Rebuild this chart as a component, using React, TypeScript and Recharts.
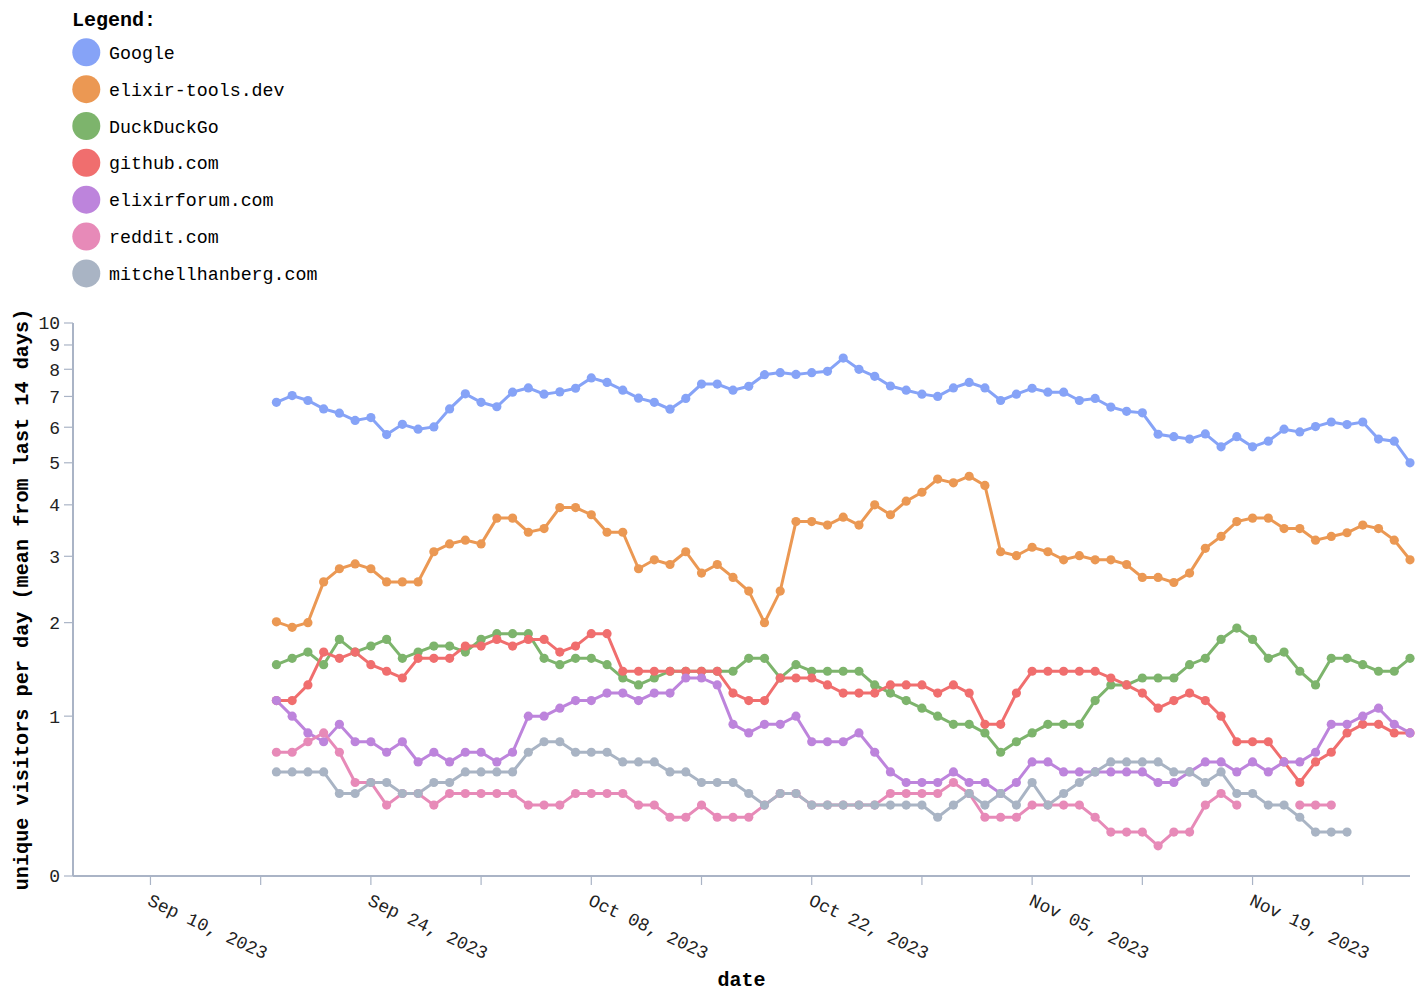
import React from 'react';
import { LineChart, Line, XAxis, YAxis } from 'recharts';

const FONT = '"Liberation Mono", "DejaVu Sans Mono", monospace';

const seriesNames = [
  'Google',
  'elixir-tools.dev',
  'DuckDuckGo',
  'github.com',
  'elixirforum.com',
  'reddit.com',
  'mitchellhanberg.com',
];
const seriesColors = ['#86a3f7', '#eb9853', '#7db46c', '#f06e6e', '#bd84dc', '#e78ab8', '#a9b4c4'];

// first data point: Sep 18, 2023 (day 8 counted from Sep 10, 2023), one point per day
const firstDay = 8;

const google = [
  6.8, 7.03, 6.86, 6.58, 6.44, 6.21, 6.3, 5.78, 6.09, 5.94, 6.01, 6.58, 7.09, 6.8, 6.65, 7.15, 7.3, 7.08, 7.16,
  7.29, 7.67, 7.5, 7.22, 6.94, 6.8, 6.57, 6.93, 7.44, 7.44, 7.22, 7.36, 7.79, 7.87, 7.8, 7.87, 7.92, 8.45,
  8.0, 7.73, 7.37, 7.22, 7.08, 7.0, 7.3, 7.5, 7.3, 6.86, 7.08, 7.29, 7.15, 7.15, 6.86, 6.93, 6.64, 6.5,
  6.45, 5.79, 5.72, 5.65, 5.8, 5.43, 5.72, 5.43, 5.59, 5.94, 5.86, 6.02, 6.16, 6.08, 6.16, 5.65, 5.59, 5.0,
];
const elixirTools = [
  2.01, 1.94, 2.0, 2.58, 2.79, 2.87, 2.79, 2.58, 2.58, 2.58, 3.08, 3.22, 3.29, 3.22, 3.72, 3.72, 3.44, 3.51, 3.94,
  3.94, 3.79, 3.44, 3.44, 2.79, 2.94, 2.86, 3.08, 2.72, 2.86, 2.65, 2.44, 2.0, 2.44, 3.65, 3.65, 3.58, 3.74,
  3.58, 4.0, 3.79, 4.08, 4.28, 4.59, 4.5, 4.66, 4.44, 3.08, 3.01, 3.16, 3.08, 2.94, 3.01, 2.94, 2.94, 2.86,
  2.65, 2.65, 2.57, 2.72, 3.14, 3.36, 3.65, 3.72, 3.72, 3.51, 3.51, 3.29, 3.36, 3.43, 3.58, 3.51, 3.29, 2.94,
];
const duckDuckGo = [
  1.5, 1.57, 1.64, 1.5, 1.79, 1.64, 1.71, 1.79, 1.57, 1.64, 1.71, 1.71, 1.64, 1.79, 1.86,
  1.86, 1.86, 1.57, 1.5, 1.57, 1.57, 1.5, 1.36, 1.29, 1.36, 1.43, 1.43, 1.43, 1.43,
  1.43, 1.57, 1.57, 1.36, 1.5, 1.43, 1.43, 1.43, 1.43, 1.29, 1.21, 1.14, 1.07, 1.0,
  0.93, 0.93, 0.86, 0.71, 0.79, 0.86, 0.93, 0.93, 0.93, 1.14, 1.29, 1.29, 1.36, 1.36, 1.36,
  1.5, 1.57, 1.79, 1.93, 1.79, 1.57, 1.64, 1.43, 1.29, 1.57, 1.57, 1.5, 1.43, 1.43, 1.57,
];
const github = [
  1.14, 1.14, 1.29, 1.64, 1.57, 1.64, 1.5, 1.43, 1.36, 1.57, 1.57, 1.57, 1.71, 1.71, 1.79,
  1.71, 1.79, 1.79, 1.64, 1.71, 1.86, 1.86, 1.43, 1.43, 1.43, 1.43, 1.43, 1.43, 1.43,
  1.21, 1.14, 1.14, 1.36, 1.36, 1.36, 1.29, 1.21, 1.21, 1.21, 1.29, 1.29, 1.29, 1.21,
  1.29, 1.21, 0.93, 0.93, 1.21, 1.43, 1.43, 1.43, 1.43, 1.43, 1.36, 1.29, 1.21, 1.07, 1.14,
  1.21, 1.14, 1.0, 0.79, 0.79, 0.79, 0.64, 0.5, 0.64, 0.71, 0.86, 0.93, 0.93, 0.86, 0.86,
];
const elixirForum = [
  1.14, 1.0, 0.86, 0.79, 0.93, 0.79, 0.79, 0.71, 0.79, 0.64, 0.71, 0.64, 0.71, 0.71, 0.64,
  0.71, 1.0, 1.0, 1.07, 1.14, 1.14, 1.21, 1.21, 1.14, 1.21, 1.21, 1.36, 1.36, 1.29,
  0.93, 0.86, 0.93, 0.93, 1.0, 0.79, 0.79, 0.79, 0.86, 0.71, 0.57, 0.5, 0.5, 0.5,
  0.57, 0.5, 0.5, 0.43, 0.5, 0.64, 0.64, 0.57, 0.57, 0.57, 0.57, 0.57, 0.57, 0.5, 0.5,
  0.57, 0.64, 0.64, 0.57, 0.64, 0.57, 0.64, 0.64, 0.71, 0.93, 0.93, 1.0, 1.07, 0.93, 0.86,
];
const reddit = [
  0.71, 0.71, 0.79, 0.86, 0.71, 0.5, 0.5, 0.36, 0.43, 0.43, 0.36, 0.43, 0.43, 0.43, 0.43,
  0.43, 0.36, 0.36, 0.36, 0.43, 0.43, 0.43, 0.43, 0.36, 0.36, 0.29, 0.29, 0.36, 0.29,
  0.29, 0.29, 0.36, 0.43, 0.43, 0.36, 0.36, 0.36, 0.36, 0.36, 0.43, 0.43, 0.43, 0.43,
  0.5, 0.43, 0.29, 0.29, 0.29, 0.36, 0.36, 0.36, 0.36, 0.29, 0.21, 0.21, 0.21, 0.14, 0.21,
  0.21, 0.36, 0.43, 0.36, null, null, null, 0.36, 0.36, 0.36, null, null, null, null, null,
];
const mitchellHanberg = [
  0.57, 0.57, 0.57, 0.57, 0.43, 0.43, 0.5, 0.5, 0.43, 0.43, 0.5, 0.5, 0.57, 0.57, 0.57,
  0.57, 0.71, 0.79, 0.79, 0.71, 0.71, 0.71, 0.64, 0.64, 0.64, 0.57, 0.57, 0.5, 0.5,
  0.5, 0.43, 0.36, 0.43, 0.43, 0.36, 0.36, 0.36, 0.36, 0.36, 0.36, 0.36, 0.36, 0.29,
  0.36, 0.43, 0.36, 0.43, 0.36, 0.5, 0.36, 0.43, 0.5, 0.57, 0.64, 0.64, 0.64, 0.64, 0.57,
  0.57, 0.5, 0.57, 0.43, 0.43, 0.36, 0.36, 0.29, 0.21, 0.21, 0.21, null, null, null, null,
];

const seriesValues = [google, elixirTools, duckDuckGo, github, elixirForum, reddit, mitchellHanberg];

const yTickValues = [0, 1, 2, 3, 4, 5, 6, 7, 8, 9, 10];
const xTickDays = [0, 7, 14, 21, 28, 35, 42, 49, 56, 63, 70, 77];
const monthNames = ['Jan', 'Feb', 'Mar', 'Apr', 'May', 'Jun', 'Jul', 'Aug', 'Sep', 'Oct', 'Nov', 'Dec'];

// symmetric-log transform (constant 1)
const symlog = (v: number | null) => (v == null ? null : Math.log10(1 + v));
const symexp = (t: number) => Math.pow(10, t) - 1;

const rows = google.map((_, i) => {
  const row: Record<string, number | null> = { day: firstDay + i };
  seriesValues.forEach((arr, s) => {
    row['s' + s] = symlog(arr[i] ?? null);
  });
  return row;
});

const fmtDay = (d: number) => {
  const dt = new Date(Date.UTC(2023, 8, 10 + d));
  const dd = String(dt.getUTCDate()).padStart(2, '0');
  return `${monthNames[dt.getUTCMonth()]} ${dd}, ${dt.getUTCFullYear()}`;
};

const AXIS_COLOR = '#aab4c6';

const XTick = (props: any) => {
  const { x, payload } = props;
  const d = payload.value as number;
  if (d % 14 !== 0) return null;
  const y0 = 896;
  return (
    <text
      x={x}
      y={y0}
      dy={9.5}
      textAnchor="start"
      transform={`rotate(25, ${x}, ${y0})`}
      fontFamily={FONT}
      fontSize={18}
      fill="#222"
    >
      {fmtDay(d)}
    </text>
  );
};

export default function App() {
  return (
    <div style={{ position: 'absolute', left: 0, top: 0, width: 1421, height: 992, background: '#fff' }}>
      <LineChart
        width={1421}
        height={992}
        data={rows}
        margin={{ top: 323, right: 11, bottom: 86, left: 13 }}
      >
        <XAxis
          dataKey="day"
          type="number"
          domain={[-4.92, 80]}
          ticks={xTickDays}
          interval={0}
          height={30}
          tickSize={9}
          axisLine={{ stroke: AXIS_COLOR, strokeWidth: 2 }}
          tickLine={{ stroke: AXIS_COLOR, strokeWidth: 1.2 }}
          tick={<XTick />}
        />
        <YAxis
          type="number"
          width={60}
          domain={[0, Math.log10(11)]}
          ticks={yTickValues.map((v) => Math.log10(1 + v))}
          interval={0}
          tickSize={9}
          tickMargin={4}
          tickFormatter={(t: number) => String(Math.round(symexp(t)))}
          axisLine={{ stroke: AXIS_COLOR, strokeWidth: 2 }}
          tickLine={{ stroke: AXIS_COLOR, strokeWidth: 1.2 }}
          tick={{ fontFamily: FONT, fontSize: 18, fill: '#222' }}
        />
        {seriesNames.map((name, s) => (
          <Line
            key={name}
            name={name}
            dataKey={'s' + s}
            type="linear"
            stroke={seriesColors[s]}
            strokeWidth={3}
            dot={{ r: 4.6, fill: seriesColors[s], stroke: seriesColors[s], strokeWidth: 0 }}
            activeDot={false}
            isAnimationActive={false}
          />
        ))}
      </LineChart>
      <svg
        width={1421}
        height={992}
        style={{ position: 'absolute', left: 0, top: 0, pointerEvents: 'none' }}
      >
        <text x={72} y={26} fontFamily={FONT} fontWeight="bold" fontSize={20} fill="#000">
          Legend:
        </text>
        {seriesNames.map((name, s) => (
          <g key={name}>
            <circle cx={86.3} cy={52.3 + 36.85 * s} r={14} fill={seriesColors[s]} />
            <text x={109} y={52.3 + 36.85 * s + 6.5} fontFamily={FONT} fontSize={18.3} fill="#000">
              {name}
            </text>
          </g>
        ))}
        <text
          x={28}
          y={599.5}
          transform="rotate(-90, 28, 599.5)"
          textAnchor="middle"
          fontFamily={FONT}
          fontWeight="bold"
          fontSize={20.2}
          fill="#000"
        >
          unique visitors per day (mean from last 14 days)
        </text>
        <text x={741.5} y={986} textAnchor="middle" fontFamily={FONT} fontWeight="bold" fontSize={20} fill="#000">
          date
        </text>
      </svg>
    </div>
  );
}
